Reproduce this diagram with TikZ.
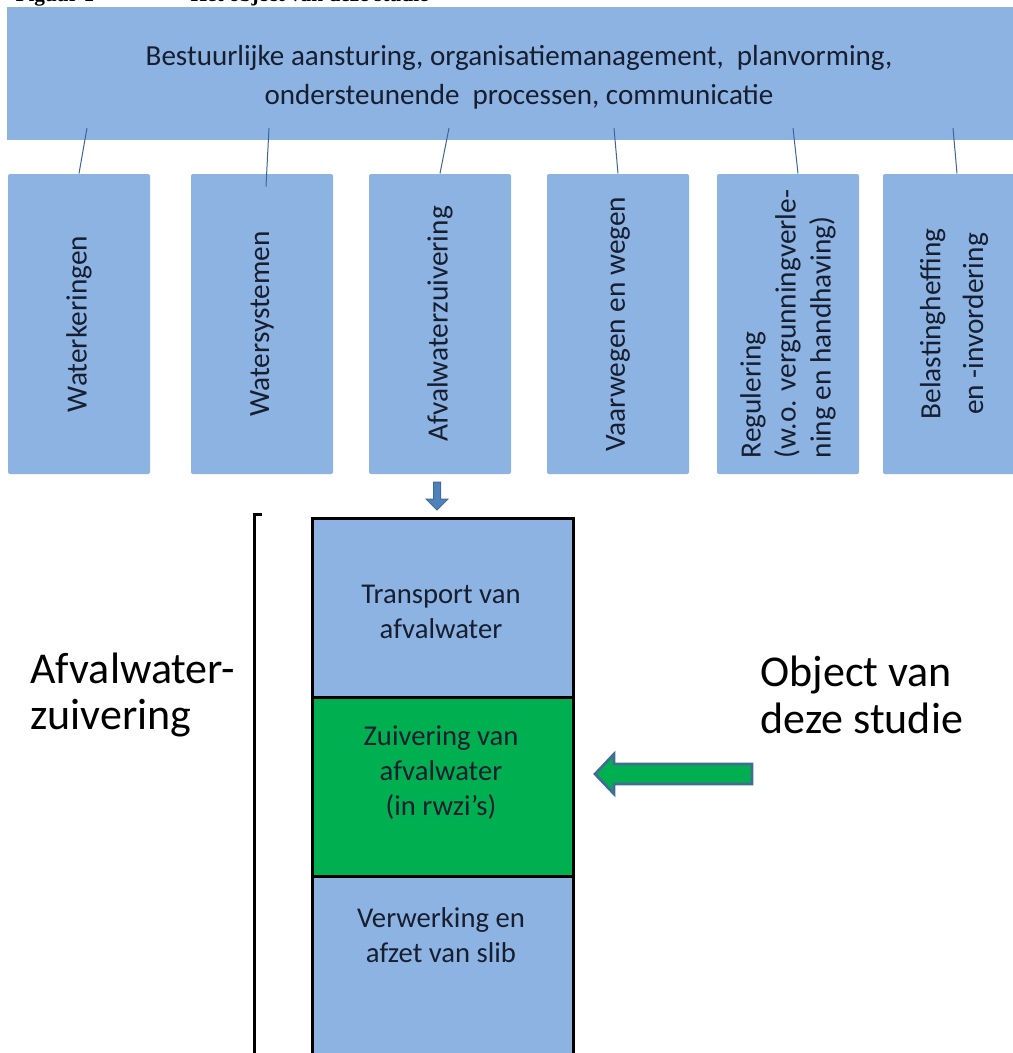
\documentclass[tikz,border=0pt]{standalone}
\usepackage{fontspec}
\setmainfont{Carlito}
\newfontfamily\bijschriftfont{Liberation Serif}
\usetikzlibrary{calc}

\definecolor{vakblauw}{RGB}{141,179,226}
\definecolor{vakgroen}{RGB}{0,176,80}
\definecolor{lijnblauw}{RGB}{60,100,150}
\definecolor{pijlblauw}{RGB}{79,129,189}
\definecolor{pijlrand}{RGB}{64,108,150}
\definecolor{tekstdonker}{RGB}{22,30,48}

\tikzset{every picture/.style={line width=0.75pt}}
\tikzset{
  taakvak/.style={rectangle, rounded corners=1.5pt, fill=vakblauw, minimum width=106.5pt, minimum height=225pt, inner sep=0pt},
  taaktekst/.style={rotate=90, font=\fontsize{22}{26.25}\selectfont, text=tekstdonker, align=center, inner sep=0pt},
  stapvak/.style={rectangle, draw=black, line width=2.25pt, fill=vakblauw, minimum width=195.75pt, minimum height=134.25pt, inner sep=0pt},
  staptekst/.style={font=\fontsize{21.5}{26.25}\selectfont, text=tekstdonker, align=center, inner sep=0pt},
  zijtekst/.style={font=\fontsize{33}{35}\selectfont, align=left, anchor=west, inner sep=0pt},
}

\begin{document}
\begin{tikzpicture}[x=0.75pt,y=0.75pt,yscale=-1,xscale=1]
\clip (0,0) rectangle (1013,1053);

% Text Node: caption, only its lower edge shows
\node[anchor=base west, inner sep=0pt, font=\bijschriftfont\bfseries\fontsize{16}{19}\selectfont] (bijschrift) at (15,2) {Figuur 1};
\node[anchor=base west, inner sep=0pt, font=\bijschriftfont\bfseries\fontsize{16}{19}\selectfont] (bijschrifttitel) at (190,2) {Het object van deze studie};

%Shape: Rectangle, top bar
\node[rectangle, fill=vakblauw, minimum width=768pt, minimum height=99.75pt, inner sep=0pt] (bestuur) at (519,73.5) {};
% Text Node
\node[font=\fontsize{21.8}{29.25}\selectfont, text=tekstdonker, align=center, inner sep=0pt] (bestuurtekst) at (519,77.5) {Bestuurlijke aansturing, organisatiemanagement,\ \ planvorming,\\ondersteunende\ \ processen, communicatie};

%Shape: Rectangles, tasks
\node[taakvak] (b1) at (79,324) {};
\node[taakvak] (b2) at (262,324) {};
\node[taakvak] (b3) at (440,324) {};
\node[taakvak] (b4) at (618,324) {};
\node[taakvak] (b5) at (788,324) {};
\node[taakvak] (b6) at (954,324) {};

% Text Nodes
\node[taaktekst] (b1tekst) at (b1) {Waterkeringen};
\node[taaktekst] (b2tekst) at (b2) {Watersystemen};
\node[taaktekst] (b3tekst) at (b3) {Afvalwaterzuivering};
\node[taaktekst] (b4tekst) at (b4) {Vaarwegen en wegen};
\node[taaktekst, align=left] (b5tekst) at (b5) {Regulering\\(w.o. vergunningverle-\\ning en handhaving)};
\node[taaktekst, font=\fontsize{22}{32}\selectfont] (b6tekst) at (b6) {Belastingheffing\\en -invordering};

%Straight Lines
\coordinate (t1) at (87,128);
\coordinate (t2) at (269,128);
\coordinate (t3) at (449,128);
\coordinate (t4) at (614,128);
\coordinate (t5) at (793,128);
\coordinate (t6) at (953,128);
\draw[lijnblauw] (t1) -- (b1.north);
\draw[lijnblauw] (t2) -- ($(b2.north)+(4,13)$);
\draw[lijnblauw] (t3) -- (b3.north);
\draw[lijnblauw] (t4) -- (b4.north);
\draw[lijnblauw] (t5) -- ($(b5.north)+(10,0)$);
\draw[lijnblauw] (t6) -- ($(b6.north)+(3,0)$);

%Shape: Down Arrow
\draw[draw=pijlrand, fill=pijlblauw] (433.5,482) -- (440.5,482) -- (440.5,499) -- (448,499) -- (437,510) -- (426,499) -- (433.5,499) -- cycle;

%Shape: Rectangles, process column
\node[stapvak] (transport) at (442.5,607.5) {};
\node[stapvak, fill=vakgroen] (zuivering) at (442.5,786.5) {};
\node[stapvak] (slib) at (442.5,965.5) {};

% Text Nodes
\node[staptekst] (transporttekst) at (441,612) {Transport van\\afvalwater};
\node[staptekst] (zuiveringtekst) at (441,773) {Zuivering van\\afvalwater\\(in rwzi’s)};
\node[staptekst] (slibtekst) at (441,935) {Verwerking en\\afzet van slib};

%Shape: Bracket
\draw[line width=2.25pt] (262,514) -- (254,514) -- (254,1060);

% Text Nodes
\node[zijtekst] (zuiveringlabel) at (30,695) {Afvalwater-\\zuivering};
\node[zijtekst] (objectlabel) at (760,695) {Object van\\deze studie};

%Shape: Left Arrow
\draw[draw=pijlrand, fill=vakgroen, line width=2pt, line join=miter] (595,774) -- (614,754) -- (614,764) -- (752,764) -- (752,784) -- (614,784) -- (614,794) -- cycle;

\end{tikzpicture}
\end{document}
